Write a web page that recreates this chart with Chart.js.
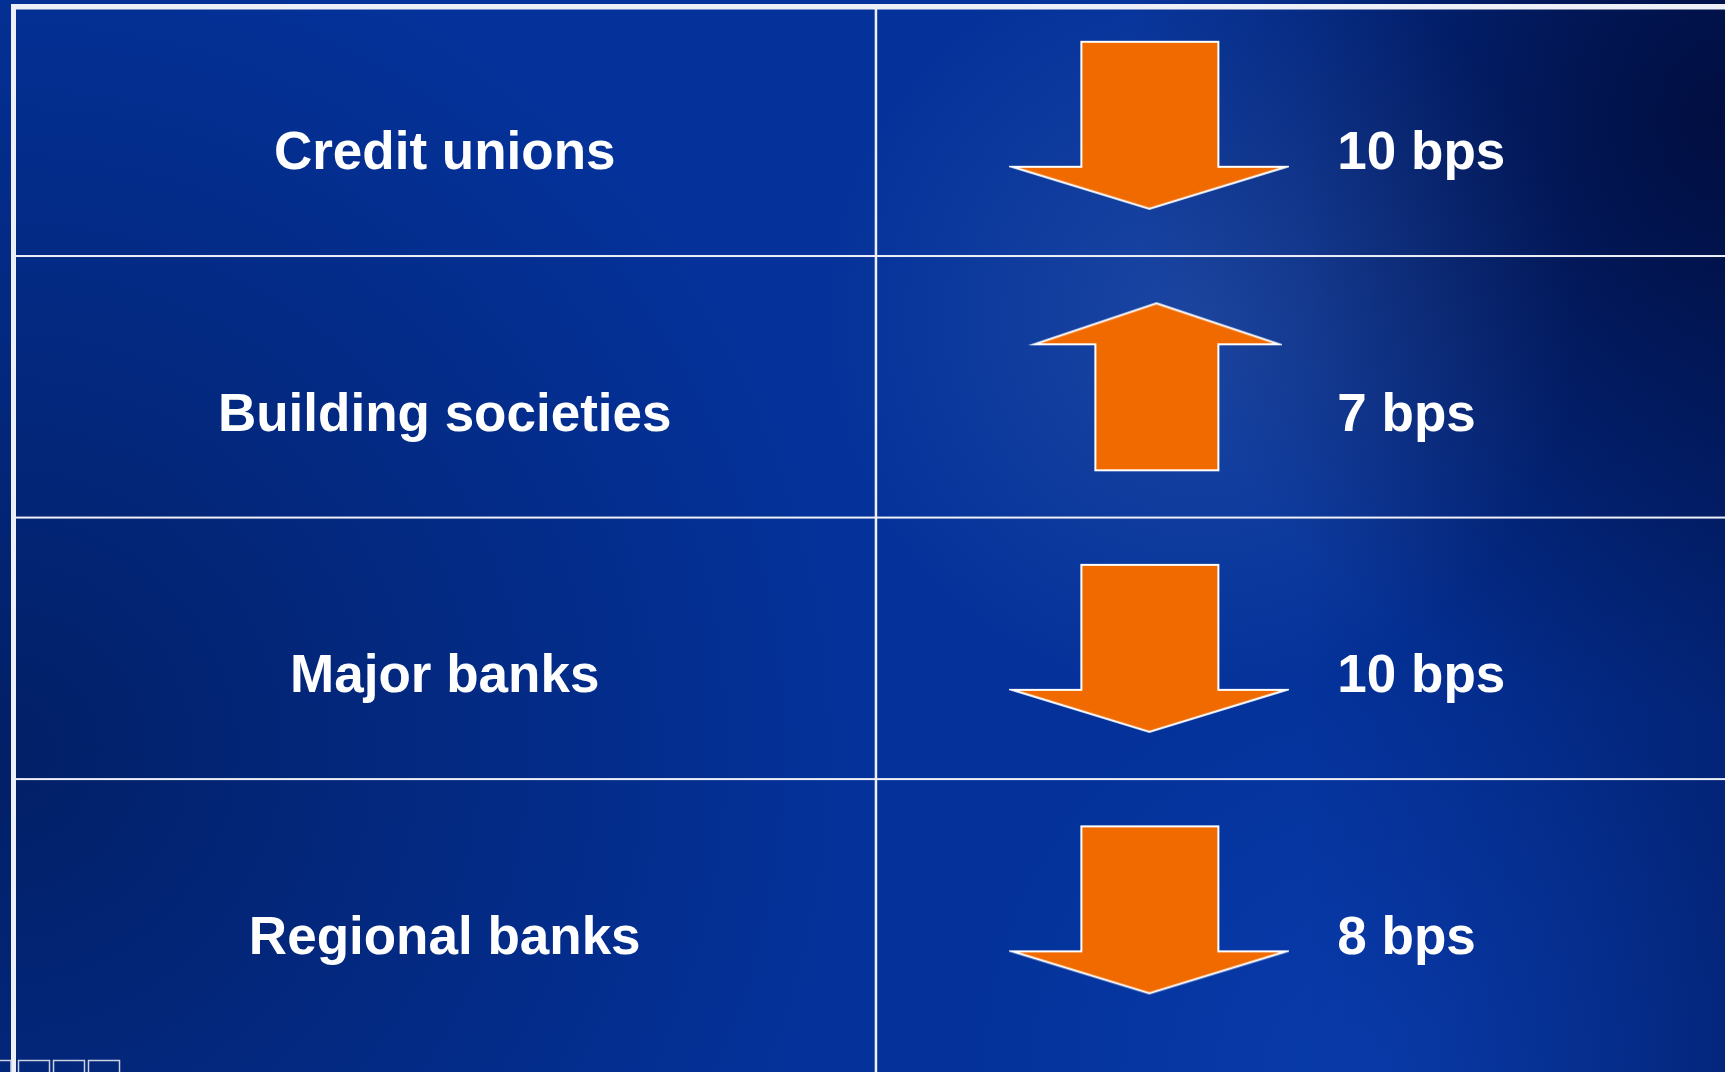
<!DOCTYPE html>
<html>
<head>
<meta charset="utf-8">
<script src="https://cdn.jsdelivr.net/npm/chart.js@4.4.1/dist/chart.umd.min.js"></script>
<style>
  html, body { margin: 0; padding: 0; background: #04329a; overflow: hidden; }
  #rates { display: block; }
</style>
</head>
<body>
<canvas id="rates" width="1725" height="1072"></canvas>
<script>
// rows of the table, top to bottom
const institutions = ['Credit unions', 'Building societies', 'Major banks', 'Regional banks'];
// change in basis points (negative = down arrow)
const changeBps = [-10, 7, -10, -8];
const unitLabel = 'bps';

// column positions in x-scale units (column 1 spans 0..1, column 2 starts at 1)
const LABEL_X = 0.5;
const ARROW_X = 1.317;
const VALUE_X = 1.535;

const LINE = '#eef0f8';
const ORANGE = '#f06a00';
const FONT = 'bold 53px "Liberation Sans", Arial, sans-serif';

// arrow markers used as point styles
function makeArrow(dir) {
  const pad = 3;
  const c = document.createElement('canvas');
  const g = c.getContext('2d');
  let pts;
  if (dir === 'down') {
    c.width = 274 + pad * 2; c.height = 167 + pad * 2;
    pts = [[69, 0], [206, 0], [206, 125], [274, 125], [137, 167], [0, 125], [69, 125]];
  } else {
    // extra room on the left so the shape sits a little right of the point
    const shift = 15;
    c.width = 245 + shift + pad * 2; c.height = 167 + pad * 2;
    pts = [[122, 0], [245, 41], [184, 41], [184, 167], [61, 167], [61, 41], [0, 41]]
      .map(p => [p[0] + shift, p[1]]);
  }
  g.beginPath();
  pts.forEach((p, i) => i ? g.lineTo(p[0] + pad, p[1] + pad) : g.moveTo(p[0] + pad, p[1] + pad));
  g.closePath();
  g.fillStyle = ORANGE;
  g.fill();
  g.lineWidth = 2;
  g.strokeStyle = '#ffffff';
  g.lineJoin = 'miter';
  g.stroke();
  return c;
}
const arrowDown = makeArrow('down');
const arrowUp = makeArrow('up');

const backdrop = {
  id: 'backdrop',
  beforeDraw(chart) {
    const { ctx, width, height } = chart;
    ctx.save();
    ctx.fillStyle = '#04329a';
    ctx.fillRect(0, 0, width, height);

    let g = ctx.createRadialGradient(0, 750, 0, 0, 750, 850);
    g.addColorStop(0, 'rgba(0,16,60,0.55)');
    g.addColorStop(1, 'rgba(0,16,60,0)');
    ctx.fillStyle = g; ctx.fillRect(0, 0, width, height);

    g = ctx.createRadialGradient(1725, 120, 0, 1725, 120, 600);
    g.addColorStop(0, 'rgba(0,10,55,0.85)');
    g.addColorStop(1, 'rgba(0,10,55,0)');
    ctx.fillStyle = g; ctx.fillRect(0, 0, width, height);

    g = ctx.createLinearGradient(1300, 0, 1725, 0);
    g.addColorStop(0, 'rgba(0,10,55,0)');
    g.addColorStop(1, 'rgba(0,10,55,0.35)');
    ctx.fillStyle = g; ctx.fillRect(0, 0, width, height);

    g = ctx.createRadialGradient(1200, 320, 0, 1200, 320, 380);
    g.addColorStop(0, 'rgba(110,140,190,0.22)');
    g.addColorStop(1, 'rgba(110,140,190,0)');
    ctx.fillStyle = g; ctx.fillRect(0, 0, width, height);

    g = ctx.createRadialGradient(1380, 1072, 0, 1380, 1072, 420);
    g.addColorStop(0, 'rgba(20,80,210,0.3)');
    g.addColorStop(1, 'rgba(20,80,210,0)');
    ctx.fillStyle = g; ctx.fillRect(0, 0, width, height);
    ctx.restore();
  },
  beforeDatasetsDraw(chart) {
    const { ctx, width, height, scales: { x, y } } = chart;
    ctx.save();
    ctx.fillStyle = LINE;
    // frame: top and left
    const left = x.getPixelForValue(0);
    ctx.fillRect(left - 2.5, 4, width, 5.5);
    ctx.fillRect(left - 2.5, 4, 5, height);
    // column divider
    ctx.fillRect(x.getPixelForValue(1) - 1.25, 9, 2.5, height);
    // row dividers
    for (let i = 0; i < institutions.length - 1; i++) {
      const py = y.getPixelForValue(i + 0.5);
      ctx.fillRect(left, py - 1, width, 2);
    }
    // little boxes in the bottom-left corner
    ctx.strokeStyle = '#c9d1e3';
    ctx.lineWidth = 1.5;
    [-20, 18.5, 53.5, 88.5].forEach(bx => ctx.strokeRect(bx, 1060.5, 31, 20));
    ctx.restore();
  },
  afterDatasetsDraw(chart) {
    const { ctx, scales: { x, y } } = chart;
    ctx.save();
    ctx.font = FONT;
    ctx.fillStyle = '#ffffff';
    ctx.textBaseline = 'alphabetic';
    institutions.forEach((name, i) => {
      const py = y.getPixelForValue(i) + 44;
      ctx.textAlign = 'center';
      ctx.fillText(name, x.getPixelForValue(LABEL_X), py);
      ctx.textAlign = 'left';
      ctx.fillText(Math.abs(changeBps[i]) + ' ' + unitLabel, x.getPixelForValue(VALUE_X), py);
    });
    ctx.restore();
  }
};

new Chart(document.getElementById('rates').getContext('2d'), {
  type: 'scatter',
  data: {
    datasets: [{
      label: 'Change',
      data: changeBps.map((v, i) => ({ x: ARROW_X, y: i })),
      pointStyle: ctx => (changeBps[ctx.dataIndex] < 0 ? arrowDown : arrowUp),
      pointRadius: 5,
      pointHoverRadius: 5
    }]
  },
  options: {
    responsive: false,
    animation: false,
    events: [],
    layout: { padding: { left: 13.5, right: 0, top: 0, bottom: 0 } },
    plugins: { legend: { display: false }, tooltip: { enabled: false } },
    scales: {
      x: { type: 'linear', min: 0, max: 1.9775, display: false },
      y: { type: 'linear', reverse: true, min: -0.456, max: 3.597, display: false }
    }
  },
  plugins: [backdrop]
});
</script>
</body>
</html>
